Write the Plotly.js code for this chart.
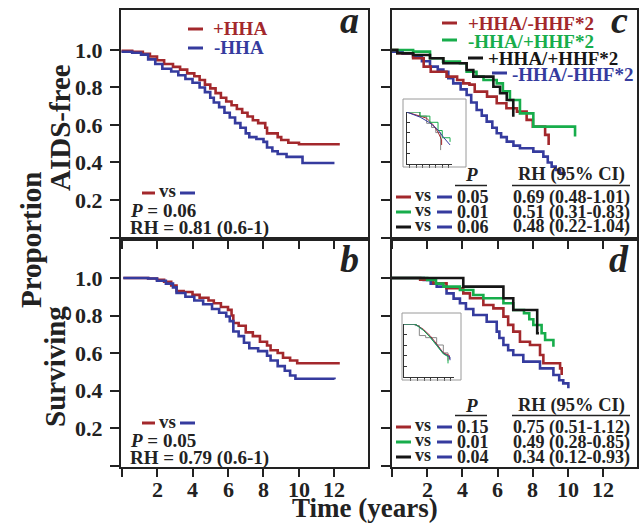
<!DOCTYPE html>
<html><head><meta charset="utf-8">
<script src="https://cdn.plot.ly/plotly-3.0.1.min.js"></script>
<style>html,body{margin:0;padding:0;background:#fff}#chart{width:639px;height:525px}</style>
</head><body><div id="chart"></div>
<script>
// ---------- data ----------
const xTickVals = [0, 2, 4, 6, 8, 10, 12];
const xTickText = ['', '2', '4', '6', '8', '10', '12'];
const yTickVals = [0, 0.2, 0.4, 0.6, 0.8, 1.0];
const yTickText = ['', '0.2', '0.4', '0.6', '0.8', '1.0'];

// Panel a: AIDS-free, +HHA vs -HHA
const aRedT = [0,0.6,1.2,1.6,2.0,2.4,2.9,3.3,3.7,4.1,4.4,4.7,5.0,5.3,5.6,5.9,6.2,6.5,6.8,7.1,7.4,7.7,8.1,8.2,8.8,9.0,9.4,10.0,12.3];
const aRedS = [0.995,0.99,0.98,0.965,0.945,0.925,0.91,0.895,0.875,0.86,0.84,0.815,0.795,0.77,0.745,0.725,0.705,0.685,0.665,0.645,0.625,0.61,0.585,0.555,0.535,0.52,0.505,0.497,0.497];
const aBlueT = [0,0.6,1.1,1.5,1.9,2.3,2.8,3.2,3.6,4.0,4.4,4.7,5.0,5.2,5.5,5.8,6.1,6.4,6.7,7.0,7.2,7.6,8.0,8.2,8.5,8.8,9.3,10.2,12.0];
const aBlueS = [0.99,0.985,0.975,0.95,0.925,0.9,0.885,0.865,0.845,0.825,0.8,0.775,0.745,0.72,0.695,0.665,0.64,0.61,0.585,0.555,0.535,0.525,0.51,0.48,0.46,0.445,0.43,0.397,0.397];

// Panel b: Surviving, +HHA vs -HHA
const bRedT = [0.1,1.5,2.0,2.4,2.8,3.1,3.5,4.0,4.4,4.9,5.2,5.6,6.0,6.2,6.3,6.6,7.0,7.4,7.8,8.2,8.4,8.8,9.1,9.5,9.9,12.3];
const bRedS = [1.0,0.997,0.99,0.98,0.96,0.93,0.925,0.91,0.895,0.88,0.865,0.845,0.83,0.8,0.76,0.745,0.71,0.69,0.66,0.64,0.615,0.6,0.575,0.56,0.545,0.545];
const bBlueT = [0.1,1.5,2.0,2.5,2.9,3.1,3.6,4.1,4.6,5.1,5.5,5.9,6.1,6.3,6.6,6.9,7.2,7.7,8.2,8.4,8.8,9.2,9.5,9.8,12.0];
const bBlueS = [1.0,0.997,0.985,0.97,0.95,0.92,0.9,0.88,0.86,0.835,0.815,0.795,0.77,0.715,0.69,0.655,0.625,0.61,0.585,0.56,0.53,0.505,0.48,0.463,0.46];

// Panel c: AIDS-free, four HHA/HHF groups
const cRedT = [0,0.3,1.2,1.8,2.2,3.1,3.7,4.05,4.4,4.7,5.4,5.95,6.5,7.1,7.65,8.0,8.7,8.9];
const cRedS = [1.0,0.982,0.956,0.911,0.884,0.858,0.84,0.822,0.815,0.778,0.751,0.716,0.689,0.671,0.627,0.591,0.547,0.493];
const cGreenT = [0,1.2,2.16,2.9,3.86,4.24,4.8,5.2,5.95,6.3,6.7,7.27,8.03,10.4];
const cGreenS = [1.0,0.991,0.956,0.938,0.929,0.884,0.858,0.84,0.822,0.78,0.733,0.662,0.591,0.538];
const cBlackT = [0,0.3,1.2,2.16,2.92,4.24,4.62,5.76,6.14,6.52,6.89];
const cBlackS = [1.0,0.982,0.973,0.956,0.929,0.893,0.858,0.804,0.769,0.733,0.644];
const cBlueT = [0,0.6,1.2,1.7,2.16,2.6,2.92,3.2,3.48,3.9,4.24,4.5,4.81,5.1,5.38,5.7,5.95,6.2,6.52,6.9,7.27,8.03,8.6,8.85,9.07,9.3,9.55,9.8];
const cBlueS = [0.99,0.98,0.964,0.94,0.911,0.895,0.884,0.85,0.822,0.79,0.76,0.72,0.68,0.65,0.618,0.585,0.556,0.535,0.511,0.49,0.476,0.458,0.431,0.4,0.378,0.36,0.342,0.33];

// Panel d: Surviving, four HHA/HHF groups
const dRedT = [0,1.6,2.35,3.1,4.05,4.43,5.19,5.76,6.33,6.6,6.89,7.27,7.84,8.41,8.6,9.55,9.64];
const dRedS = [1.0,0.991,0.972,0.945,0.918,0.892,0.856,0.838,0.794,0.75,0.714,0.66,0.643,0.589,0.545,0.518,0.483];
const dGreenT = [0,2.0,2.5,2.92,3.86,4.62,5.19,6.33,6.89,7.5,7.8,8.03,8.5,8.7,9.17];
const dGreenS = [1.0,0.99,0.97,0.954,0.936,0.909,0.892,0.865,0.829,0.812,0.78,0.749,0.705,0.669,0.634];
const dBlackT = [0,4.05,6.33,6.89,8.25,8.35];
const dBlackS = [1.0,0.954,0.892,0.829,0.705,0.705];
const dBlueT = [0,1.8,2.2,2.54,3.1,3.5,3.86,4.2,4.62,5.38,5.95,6.1,6.33,6.6,6.89,7.46,8.41,9.17,9.5,9.73,10.02];
const dBlueS = [1.0,0.99,0.97,0.954,0.918,0.89,0.865,0.835,0.803,0.767,0.714,0.68,0.643,0.615,0.589,0.554,0.518,0.483,0.455,0.438,0.412];

// Inset in panel c (adjusted curves)
const icRedT = [0,4.2,6.2,8.2,9.7,10.8,10.8];
const icRedS = [1.0,0.91,0.88,0.75,0.61,0.46,0.36];
const icGreenT = [0,4.2,7.2,9.7,11.0,13.4,13.4];
const icGreenS = [1.0,0.92,0.80,0.64,0.50,0.49,0.42];
const icGrayT = [0,4.0,6.2,7.7,9.0,10.5,10.5];
const icGrayS = [1.0,0.92,0.78,0.70,0.60,0.50,0.26];
const icBlueT = [0,4.2,7.2,9.7,11.5,13.4];
const icBlueS = [1.0,0.90,0.79,0.65,0.50,0.36];

// Inset in panel d (adjusted curves)
const idRedT = [0,3.3,5.8,7.8,9.8,11.8,13.6,13.6];
const idRedS = [1.0,1.0,0.90,0.78,0.62,0.45,0.40,0.33];
const idGreenT = [0,3.3,5.8,7.8,9.8,11.8,13.2,13.2];
const idGreenS = [1.0,1.0,0.88,0.75,0.59,0.43,0.38,0.25];
const idGrayT = [0,3.3,4.6,6.5,7.8,9.8,11.8,13.2,13.2];
const idGrayS = [1.0,0.97,0.78,0.74,0.74,0.60,0.45,0.40,0.30];
const idBlueT = [0,3.3,5.8,7.8,9.8,11.8,13.8,13.8];
const idBlueS = [1.0,1.0,0.885,0.756,0.60,0.44,0.37,0.31];

// ---------- styling ----------
const W = 639, H = 525;
const FONT = 'Liberation Serif, Times New Roman, serif';
const INK = '#222';
const RED = '#a3282c', BLUE = '#353b9e', GREEN = '#17ad4b', BLACK = '#151515', GRAY = '#888';
const px = X => X / W, py = Y => 1 - Y / H;

function line(x, y, color, xa, ya, width, shape) {
  return {x, y, xaxis: xa, yaxis: ya, type: 'scatter', mode: 'lines',
    line: {color, width: width || 2.6, shape: shape || 'hv'}, hoverinfo: 'skip', showlegend: false};
}
const traces = [
  line(aRedT, aRedS, RED, 'x', 'y'), line(aBlueT, aBlueS, BLUE, 'x', 'y'),
  line(bRedT, bRedS, RED, 'x2', 'y2'), line(bBlueT, bBlueS, BLUE, 'x2', 'y2'),
  line(cBlueT, cBlueS, BLUE, 'x3', 'y3'), line(cRedT, cRedS, RED, 'x3', 'y3'),
  line(cGreenT, cGreenS, GREEN, 'x3', 'y3'), line(cBlackT, cBlackS, BLACK, 'x3', 'y3'),
  line(dBlueT, dBlueS, BLUE, 'x4', 'y4'), line(dRedT, dRedS, RED, 'x4', 'y4'),
  line(dGreenT, dGreenS, GREEN, 'x4', 'y4'), line(dBlackT, dBlackS, BLACK, 'x4', 'y4'),
  line(icGrayT, icGrayS, GRAY, 'x5', 'y5', 1, 'hv'), line(icRedT, icRedS, RED, 'x5', 'y5', 1, 'linear'),
  line(icGreenT, icGreenS, GREEN, 'x5', 'y5', 1, 'hv'), line(icBlueT, icBlueS, BLUE, 'x5', 'y5', 1, 'linear'),
  line(idGrayT, idGrayS, GRAY, 'x6', 'y6', 1, 'hv'), line(idRedT, idRedS, RED, 'x6', 'y6', 1, 'linear'),
  line(idBlueT, idBlueS, BLUE, 'x6', 'y6', 1, 'linear'), line(idGreenT, idGreenS, GREEN, 'x6', 'y6', 1, 'linear')
];

const tickFont = {family: FONT, size: 22, color: INK, weight: 'bold'};
function xAx(dom, anchor, range) {
  return {domain: dom, anchor, range, tickmode: 'array', tickvals: xTickVals, ticktext: xTickText,
    showticklabels: false, ticks: 'outside', ticklen: 8, tickwidth: 2, tickcolor: INK,
    showline: true, linewidth: 2, linecolor: INK, mirror: true, showgrid: false, zeroline: false,
    fixedrange: true};
}
function yAx(dom, anchor, labels, range) {
  return {domain: dom, anchor, range, tickmode: 'array', tickvals: yTickVals, ticktext: yTickText,
    showticklabels: labels, ticks: 'outside', ticklen: 9, tickwidth: 2, tickcolor: INK,
    showline: true, linewidth: 2, linecolor: INK, mirror: true, showgrid: false, zeroline: false,
    fixedrange: true, tickfont: tickFont, ticklabelstandoff: 3};
}
function inX(dom, anchor, range, vals) {
  return {domain: dom, anchor, range, tickmode: 'array', tickvals: vals, showticklabels: false,
    ticks: 'outside', ticklen: 3, tickwidth: 1, tickcolor: '#333', showline: true, linewidth: 1,
    linecolor: '#333', showgrid: false, zeroline: false, fixedrange: true};
}
function inY(dom, anchor) {
  return {domain: dom, anchor, range: [0, 1.0], tickmode: 'array', tickvals: [0.2, 0.4, 0.6, 0.8, 1.0],
    showticklabels: false, ticks: 'inside', ticklen: 3, tickwidth: 1, tickcolor: '#333', showline: true,
    linewidth: 1, linecolor: '#333', showgrid: false, zeroline: false, fixedrange: true};
}

function ann(text, X, Y, size, xanchor, extra) {
  return Object.assign({text, x: px(X), y: py(Y), xref: 'paper', yref: 'paper',
    xanchor: xanchor || 'left', yanchor: 'middle', showarrow: false, borderpad: 0,
    font: {family: FONT, size, color: INK}}, extra || {});
}
function sw(X1, X2, Y, color, w) {
  return {type: 'line', xref: 'paper', yref: 'paper', x0: px(X1), x1: px(X2), y0: py(Y), y1: py(Y),
    line: {color, width: w || 3}};
}
function box(X1, Y1, X2, Y2) {
  return {type: 'rect', xref: 'paper', yref: 'paper', x0: px(X1), x1: px(X2), y0: py(Y2), y1: py(Y1),
    line: {color: '#9a9a9a', width: 1}, fillcolor: 'rgba(0,0,0,0)'};
}

const annotations = [
  // axis titles
  ann('<b>Proportion</b>', 31, 240, 29, 'center', {textangle: -90}),
  ann('<b>AIDS-free</b>', 60, 128, 29, 'center', {textangle: -90}),
  ann('<b>Surviving</b>', 55, 366, 29, 'center', {textangle: -90}),
  ann('<b>Time (years)</b>', 365, 507.5, 27, 'center'),
  // panel letters
  ann('<b><i>a</i></b>', 349, 20, 38, 'center'),
  ann('<b><i>b</i></b>', 349, 259, 38, 'center'),
  ann('<b><i>c</i></b>', 619, 20, 38, 'center'),
  ann('<b><i>d</i></b>', 619, 259, 38, 'center'),
  // legend a
  ann('<b>+HHA</b>', 212, 29, 19, 'left', {font: {family: FONT, size: 19, color: RED}}),
  ann('<b>-HHA</b>', 213, 48, 19, 'left', {font: {family: FONT, size: 19, color: BLUE}}),
  // stats a
  ann('<b>vs</b>', 167, 190, 19, 'center'),
  ann('<b><i>P</i> = 0.06</b>', 129, 210, 19),
  ann('<b>RH = 0.81 (0.6-1)</b>', 129, 228, 19),
  // stats b
  ann('<b>vs</b>', 167, 421, 19, 'center'),
  ann('<b><i>P</i> = 0.05</b>', 129, 440, 19),
  ann('<b>RH = 0.79 (0.6-1)</b>', 129, 458, 19),
  // legend c
  ann('<b>+HHA/-HHF*2</b>', 467, 24, 19, 'left', {font: {family: FONT, size: 19, color: RED}}),
  ann('<b>-HHA/+HHF*2</b>', 467, 41, 19, 'left', {font: {family: FONT, size: 19, color: GREEN}}),
  ann('<b>+HHA/+HHF*2</b>', 487, 59, 19, 'left', {font: {family: FONT, size: 19, color: BLACK}}),
  ann('<b>-HHA/-HHF*2</b>', 511, 75, 19, 'left', {font: {family: FONT, size: 19, color: BLUE}}),
];
// x tick labels of the bottom panels, placed through the axis scales
['x2', 'x4'].forEach(xa => {
  xTickVals.forEach((v, i) => {
    if (!xTickText[i]) return;
    annotations.push({text: '<b>' + xTickText[i] + '</b>', x: v, xref: xa, y: py(489), yref: 'paper',
      xanchor: 'center', yanchor: 'middle', showarrow: false, borderpad: 0,
      font: {family: FONT, size: 22, color: INK}});
  });
});
// tables c and d
const tables = [
  {top: 175, rows: [197, 212, 227], P: ['0.05', '0.01', '0.06'],
   RH: ['0.69 (0.48-1.01)', '0.51 (0.31-0.83)', '0.48 (0.22-1.04)']},
  {top: 405, rows: [427, 442, 457], P: ['0.15', '0.01', '0.04'],
   RH: ['0.75 (0.51-1.12)', '0.49 (0.28-0.85)', '0.34 (0.12-0.93)']}
];
const shapes = [
  sw(188, 203, 29, RED), sw(188, 203, 48, BLUE),
  sw(142, 155, 193, RED), sw(180, 195, 193, BLUE),
  sw(142, 155, 423, RED), sw(180, 195, 423, BLUE),
  sw(442, 457, 23, RED), sw(442, 457, 40, GREEN), sw(468, 483, 58, BLACK), sw(492, 507, 73, BLUE),
  box(403, 99, 466, 167), box(402, 313, 461, 380)
];
const rowColors = [RED, GREEN, BLACK];
tables.forEach(t => {
  annotations.push(ann('<b><i>P</i></b>', 471, t.top, 19, 'center'));
  annotations.push(ann('<b>RH (95% CI)</b>', 571, t.top, 18.5, 'center'));
  shapes.push(sw(455, 487, t.top + 10.5, INK, 1.5));
  shapes.push(sw(512, 630, t.top + 10.5, INK, 1.5));
  t.rows.forEach((Y, i) => {
    shapes.push(sw(396, 411, Y, rowColors[i]));
    shapes.push(sw(437, 452, Y, BLUE));
    annotations.push(ann('<b>vs</b>', 423, Y - 2, 18, 'center'));
    annotations.push(ann('<b>' + t.P[i] + '</b>', 456, Y, 18, 'left'));
    annotations.push(ann('<b>' + t.RH[i] + '</b>', 512, Y, 18, 'left'));
  });
});

const layout = {
  width: W, height: H, margin: {l: 0, r: 0, t: 0, b: 0},
  paper_bgcolor: '#fff', plot_bgcolor: '#fff', showlegend: false,
  xaxis: xAx([px(121), px(368)], 'y', [-0.03, 13.89]),
  yaxis: yAx([py(239), py(10)], 'x', true, [-0.008, 1.213]),
  xaxis2: xAx([px(121), px(368)], 'y2', [-0.03, 13.89]),
  yaxis2: yAx([py(467), py(239)], 'x2', true, [-0.008, 1.208]),
  xaxis3: xAx([px(392), px(637)], 'y3', [0, 13.92]),
  yaxis3: yAx([py(239), py(10)], 'x3', false, [-0.008, 1.213]),
  xaxis4: xAx([px(392), px(637)], 'y4', [0, 13.92]),
  yaxis4: yAx([py(467), py(239)], 'x4', false, [-0.008, 1.208]),
  xaxis5: inX([px(406.5), px(452)], 'y5', [0, 14], [1, 3, 5, 7, 9, 11, 13]),
  yaxis5: inY([py(163.5), py(112)], 'x5'),
  xaxis6: inX([px(404), px(454)], 'y6', [0, 15], [2, 4, 6, 8, 10, 12, 14]),
  yaxis6: inY([py(376.5), py(324)], 'x6'),
  annotations, shapes
};
Plotly.newPlot('chart', traces, layout, {staticPlot: true, displayModeBar: false});
</script></body></html>
